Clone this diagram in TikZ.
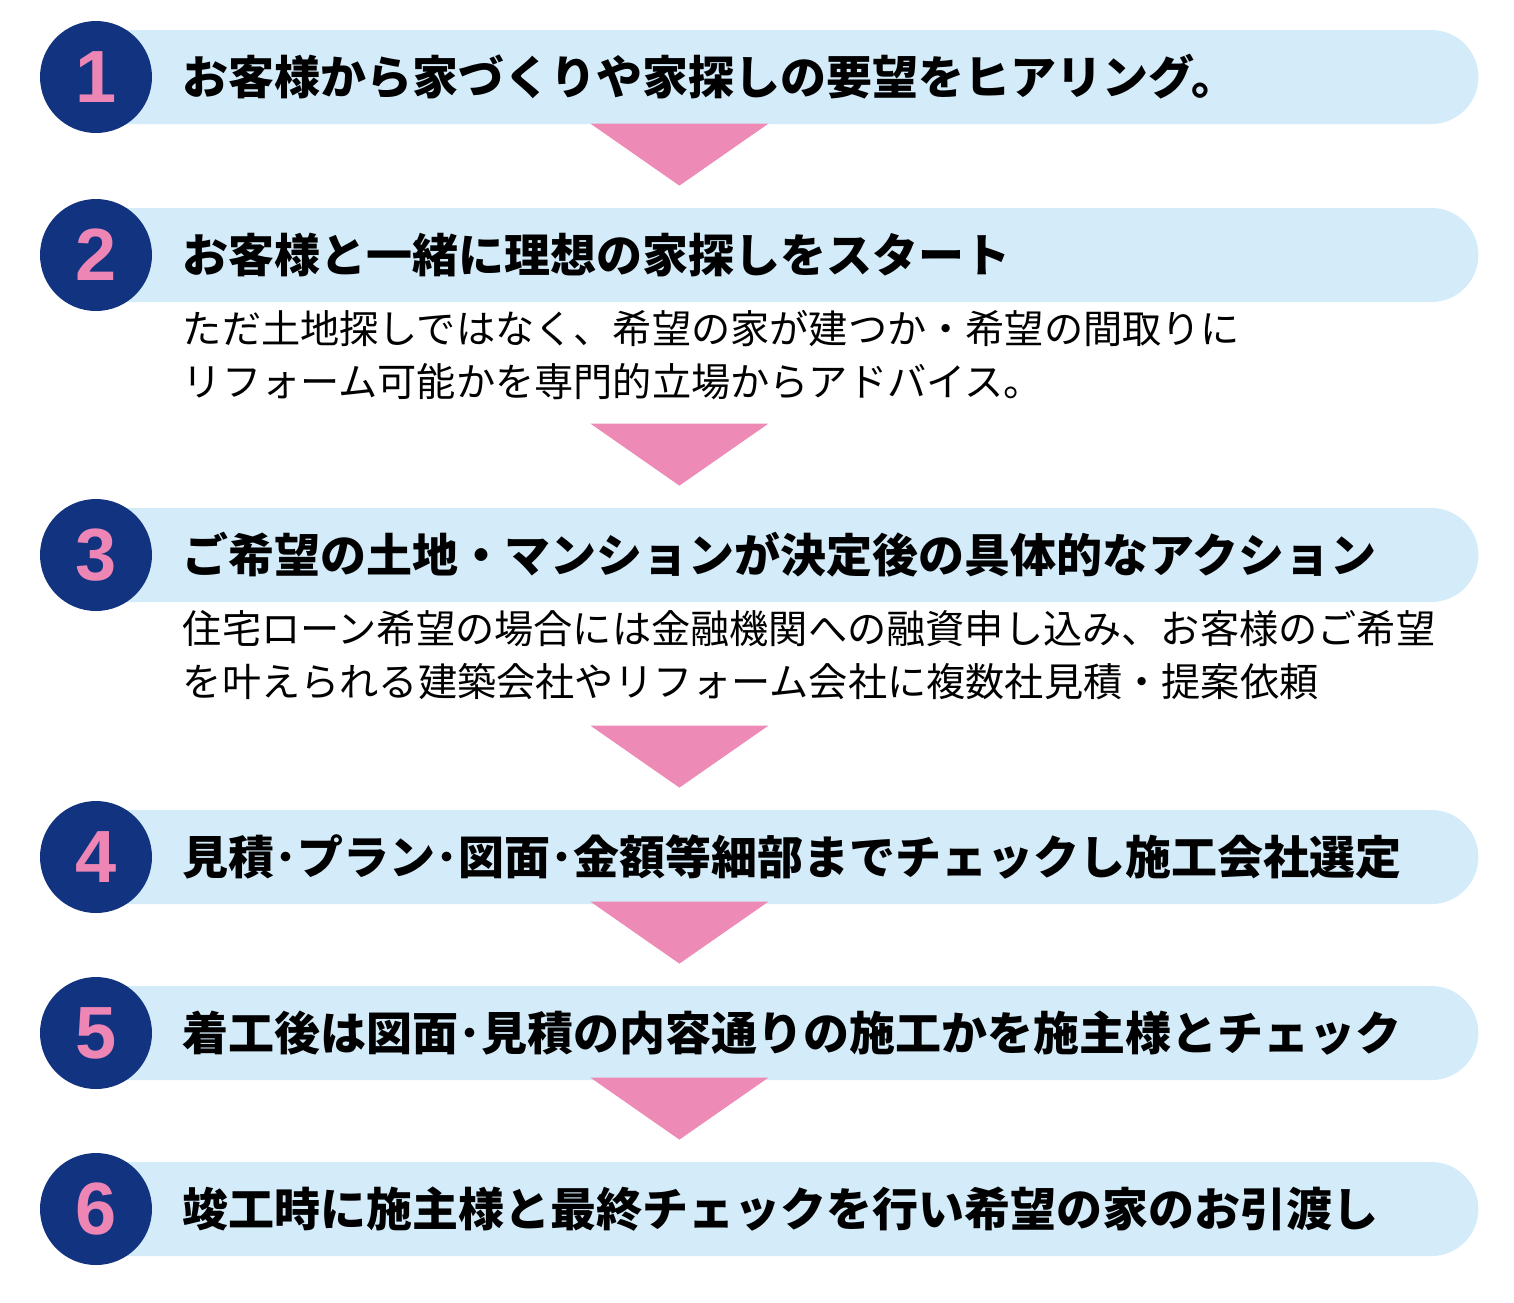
\documentclass[tikz,border=0pt]{standalone}
\usepackage{fontspec}
\setmainfont{Liberation Sans}
\newfontfamily\jpfont{Noto Sans CJK JP}
\newfontfamily\numfont{Liberation Sans}
\usetikzlibrary{shapes.misc, positioning}
\definecolor{navycolor}{RGB}{17,51,128}
\definecolor{numpink}{RGB}{238,134,181}
\definecolor{barblue}{RGB}{212,236,249}
\definecolor{arrowpink}{RGB}{237,138,182}
\tikzset{
    stepbar/.style={shape=rounded rectangle, rounded rectangle west arc=none,
        fill=barblue, minimum width=691pt, minimum height=47pt, inner sep=0pt},
    numcircle/.style={circle, fill=navycolor, text=numpink, minimum size=56pt,
        inner sep=0pt, font=\numfont\bfseries\fontsize{37pt}{37pt}\selectfont},
    steptitle/.style={anchor=west, inner sep=0pt,
        font=\jpfont\bfseries\fontsize{23pt}{27pt}\selectfont},
    stepnote/.style={anchor=north west, inner sep=0pt, align=left,
        font=\jpfont\fontsize{19.6pt}{26.5pt}\selectfont}
}

\begin{document}
\begin{tikzpicture}[x=0.5pt,y=-0.5pt]
    \useasboundingbox (0,0) rectangle (1514,1302);
    % steps
    \foreach \n/\y/\txt in {
        1/77/{お客様から家づくりや家探しの要望をヒアリング。},
        2/255/{お客様と一緒に理想の家探しをスタート},
        3/555/{ご希望の土地・マンションが決定後の具体的なアクション},
        4/857/{見積･プラン･図面･金額等細部までチェックし施工会社選定},
        5/1033/{着工後は図面･見積の内容通りの施工かを施主様とチェック},
        6/1209/{竣工時に施主様と最終チェックを行い希望の家のお引渡し}}{
        \node[stepbar, anchor=west] (bar\n) at (96,\y) {};
        \node[numcircle] (num\n) at (96,\y) {\n};
        \node[steptitle, right=15pt of num\n] (title\n) {\txt};
    }
    % notes
    \node[stepnote] (note2) at ([yshift=-4pt]bar2.south -| title2.west)
        {ただ土地探しではなく、希望の家が建つか・希望の間取りに\\
         リフォーム可能かを専門的立場からアドバイス。};
    \node[stepnote] (note3) at ([yshift=-4pt]bar3.south -| title3.west)
        {住宅ローン希望の場合には金融機関への融資申し込み、お客様のご希望\\
         を叶えられる建築会社やリフォーム会社に複数社見積・提案依頼};
    % arrows
    \foreach \m in {2,...,6}
        \fill[arrowpink] ([xshift=-54pt,yshift=11pt]bar\m.north)
            -- ++(-44.5pt,31pt) -- ++(89pt,0pt) -- cycle;
\end{tikzpicture}
\end{document}
